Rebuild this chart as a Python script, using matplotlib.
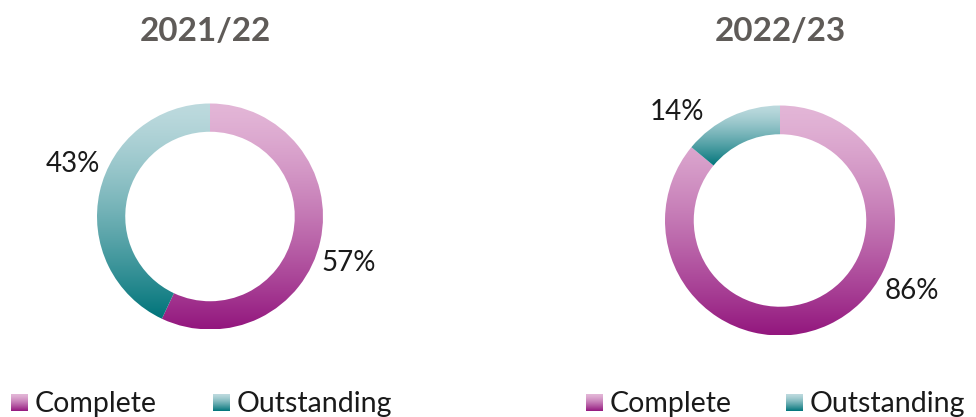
import numpy as np
import matplotlib
matplotlib.use("Agg")
import matplotlib.pyplot as plt
from matplotlib.colors import to_rgb

# ---- data ----
years = ["2021/22", "2022/23"]
categories = ["Complete", "Outstanding"]
complete = [57, 86]
outstanding = [43, 14]

# ---- style ----
plt.rcParams['font.family'] = ['Lato', 'DejaVu Sans']
W, H = 976, 417
grad = {"Complete": ("#E3B6D7", "#93177E"),
        "Outstanding": ("#BDDADE", "#00747A")}
title_color = "#5F5B58"
text_color = "#1A1A1A"


def gradient_array(top, bottom, n=256):
    t = np.linspace(0, 1, n)[:, None] ** 1.35
    a = np.array(to_rgb(top))
    b = np.array(to_rgb(bottom))
    arr = a * (1 - t) + b * t  # row 0 = top
    return arr[:, None, :]


fig = plt.figure(figsize=(W / 100, H / 100), dpi=100)

# overlay axes in pixel coordinates for titles, labels, legend
ov = fig.add_axes([0, 0, 1, 1])
ov.axis('off')

centers = [(210, 216.5), (780, 220.5)]
radii = [113, 115]
title_pos = [(205, 31), (780, 31)]
# label positions (pixel centres) for [complete, outstanding]
label_pos = [[(349, 263), (73, 164)], [(912, 291), (677, 112)]]
legend_x = [[(11, 35), (213, 237)], [(586, 610), (786, 810)]]

for i, year in enumerate(years):
    cx, cy = centers[i]
    r = radii[i]
    ax = fig.add_axes([(cx - r) / W, (H - cy - r) / H, 2 * r / W, 2 * r / H])
    vals = [complete[i], outstanding[i]]
    wedges, _ = ax.pie(vals, startangle=90, counterclock=False, radius=1,
                       wedgeprops=dict(width=0.25, linewidth=0))
    for w, cat in zip(wedges, categories):
        ext = w.get_path().get_extents()
        top, bot = grad[cat]
        ax.imshow(gradient_array(top, bot), origin='upper', aspect='auto',
                  extent=[ext.x0, ext.x1, ext.y0, ext.y1], clip_path=w,
                  interpolation='bilinear', zorder=2)
        w.set_facecolor('none')
    ax.set_xlim(-1, 1)
    ax.set_ylim(-1, 1)
    ax.axis('off')

    # title
    ov.text(title_pos[i][0], title_pos[i][1], year, ha='center', va='center',
            fontsize=24, fontweight='bold', color=title_color)
    # percentage labels
    for v, (lx, ly) in zip(vals, label_pos[i]):
        ov.text(lx, ly, f"{v}%", ha='center', va='center', fontsize=20,
                color=text_color)
    # legend
    for cat, (sx, tx) in zip(categories, legend_x[i]):
        top, bot = grad[cat]
        ov.imshow(gradient_array(top, bot), origin='upper', aspect='auto',
                  extent=[sx, sx + 17, 411, 394], interpolation='bilinear')
        ov.text(tx, 412, cat, ha='left', va='baseline', fontsize=20.5,
                color=text_color)

ov.set_xlim(0, W)
ov.set_ylim(H, 0)

fig.savefig("out.png", dpi=100)
